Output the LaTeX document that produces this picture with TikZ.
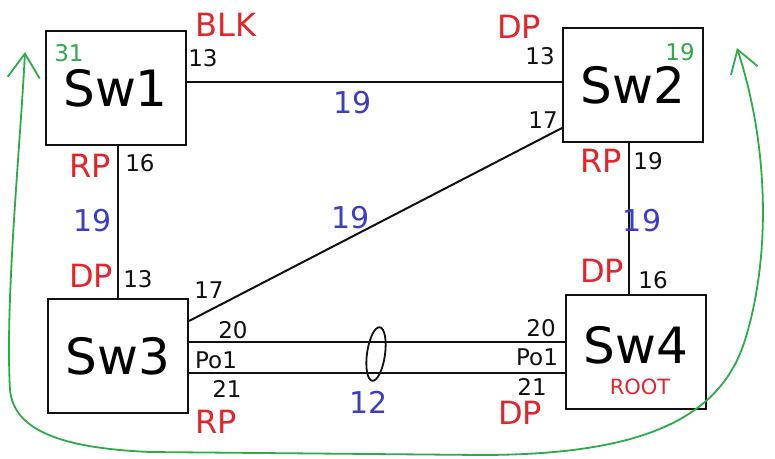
\documentclass[tikz,border=0pt]{standalone}
\usepackage{fontspec}
\setmainfont{DejaVu Sans}
\usetikzlibrary{arrows.meta}
\definecolor{stpred}{HTML}{E3242B}
\definecolor{stpgreen}{HTML}{2EAA4A}
\definecolor{stpblue}{HTML}{3C3CC8}
\definecolor{stpink}{HTML}{111111}

\begin{document}
\begin{tikzpicture}[x=1pt, y=-1pt,
    swbox/.style={draw=stpink, line width=2pt, minimum width=140pt,
                  minimum height=114pt, inner sep=0pt,
                  font=\fontsize{50}{50}\selectfont},
    link/.style={draw=stpink, line width=2pt},
    port/.style={text=stpink, inner sep=0pt, font=\fontsize{23}{23}\selectfont},
    role/.style={text=stpred, inner sep=0pt, font=\fontsize{32}{32}\selectfont},
    cost/.style={text=stpblue, inner sep=0pt, font=\fontsize{30}{30}\selectfont},
    prio/.style={text=stpgreen, inner sep=0pt, font=\fontsize{23}{23}\selectfont}]
    \useasboundingbox (0,0) rectangle (775,458);

    % switches
    \node[swbox] (sw1) at (115.5,88) {Sw1};
    \node[swbox] (sw2) at (633,85)   {Sw2};
    \node[swbox] (sw3) at (118,356)  {Sw3};
    \node[swbox, text depth=14pt] (sw4) at (636,352) {Sw4};

    % links
    \draw[link] ([yshift=6pt]sw1.east) -- ([yshift=3pt]sw2.west);
    \draw[link] ([xshift=2.5pt]sw1.south) -- (sw3.north);
    \draw[link] ([xshift=-4pt]sw2.south) -- ([xshift=-7pt]sw4.north);
    \draw[link] ([yshift=35pt]sw3.east) -- ([yshift=-43pt]sw2.west);
    \draw[link] ([yshift=14pt]sw3.east) -- ([yshift=10pt]sw4.west);
    \draw[link] ([yshift=-17pt]sw3.east) -- ([yshift=-21pt]sw4.west);
    \draw[link, line width=1.8pt, rotate around={-8:(376,354)}]
        (376,354) ellipse [x radius=9, y radius=27];

    % Sw1
    \node[prio] (p1) at (69,53) {31};
    \node[role] (blk) at (226,25) {BLK};
    \node[port] (s1e) at (203,58) {13};
    \node[port] (s1s) at (140,163) {16};
    \node[role] (rp1) at (90,166) {RP};

    % Sw2
    \node[role] (dp2) at (519,27) {DP};
    \node[port] (s2w) at (540,56) {13};
    \node[prio] (p2) at (680,52) {19};
    \node[port] (s2d) at (543,120) {17};
    \node[role] (rp2) at (601,161) {RP};
    \node[port] (s2s) at (648,161) {19};

    % Sw3
    \node[role] (dp3) at (91,276) {DP};
    \node[port] (s3n) at (138,279) {13};
    \node[port] (s3d) at (209,290) {17};
    \node[port] (s3a) at (233,330) {20};
    \node[port] (s3p) at (216,360) {Po1};
    \node[port] (s3b) at (227,389) {21};
    \node[role] (rp3) at (216,422) {RP};

    % Sw4
    \node[role] (dp4) at (602,271) {DP};
    \node[port] (s4n) at (653,280) {16};
    \node[port] (s4a) at (541,328) {20};
    \node[port] (s4p) at (537,357) {Po1};
    \node[port] (s4b) at (532,387) {21};
    \node[role] (dp5) at (520,413) {DP};
    \node[text=stpred, inner sep=0pt, font=\fontsize{21}{21}\selectfont]
        (root) at (640,387) {ROOT};

    % link costs
    \node[cost] (c12) at (353,103) {19};
    \node[cost] (c13) at (93,221) {19};
    \node[cost] (c24) at (642,221) {19};
    \node[cost] (c23) at (351,218) {19};
    \node[cost] (c34) at (369,402) {12};

    % path round the loop
    \coordinate (loopL) at (25,52);
    \coordinate (loopR) at (737,48);
    \draw[stpgreen, line width=1.8pt,
          {Straight Barb[length=24pt,width=32pt]}-{Straight Barb[length=22pt,width=28pt]}]
        (loopL) .. controls (20,150) and (5,300) .. (10,390)
        .. controls (14,430) and (60,448) .. (150,452) -- (480,455)
        .. controls (640,455) and (720,420) .. (745,340)
        .. controls (770,260) and (770,150) .. (loopR);
\end{tikzpicture}
\end{document}
